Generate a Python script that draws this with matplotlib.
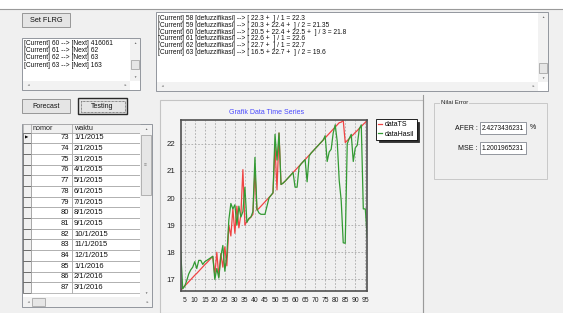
import matplotlib
matplotlib.use('Agg')
import matplotlib.pyplot as plt
from matplotlib.patches import Rectangle

W, H = 563, 313

# chart data
x_index = list(range(3, 97))
data_ts = [16.60, 16.68, 16.76, 16.83, 16.91, 16.99, 17.07, 17.15, 17.22, 17.30,
           17.38, 17.46, 17.54, 17.61, 17.69, 17.77, 17.85, 17.15, 18.00, 17.10,
           17.95, 17.45, 18.20, 17.50, 19.00, 18.60, 19.60, 18.70, 19.70, 18.90,
           19.40, 21.05, 19.00, 19.15, 19.22, 19.30, 19.40, 21.00, 19.55, 19.62,
           19.70, 19.78, 19.86, 19.94, 20.02, 20.10, 20.18, 21.90, 20.30, 22.40,
           20.50, 20.55, 20.62, 20.70, 20.78, 20.86, 20.94, 21.02, 21.10, 21.18,
           21.26, 21.34, 21.42, 21.50, 21.58, 21.66, 21.74, 21.82, 21.90, 21.98,
           22.06, 22.14, 22.22, 22.30, 22.38, 22.46, 22.54, 22.62, 22.70, 22.78,
           22.80, 22.87, 22.05, 22.12, 22.19, 22.27, 22.34, 22.42, 22.49, 22.57,
           22.64, 22.72, 22.79, 22.87]
data_hasil = [18.05, 16.65, 16.75, 16.95, 17.20, 17.35, 17.45, 17.65, 17.40, 17.70,
              17.70, 17.55, 17.65, 17.70, 17.75, 17.80, 17.85, 17.00, 17.40, 17.05,
              17.85, 18.25, 17.30, 17.90, 19.20, 19.80, 19.60, 19.75, 19.00, 19.70,
              19.30, 19.50, 20.40, 19.10, 19.25, 19.30, 19.50, 21.50, 19.60, 19.45,
              19.40, 19.40, 19.40, 19.70, 20.00, 20.10, 20.20, 22.35, 21.40, 22.40,
              20.50, 20.55, 20.62, 20.70, 20.78, 20.86, 20.94, 20.40, 20.40, 21.15,
              21.26, 21.34, 21.42, 20.60, 21.55, 21.66, 21.74, 21.82, 21.90, 21.98,
              22.06, 22.14, 22.30, 21.35, 21.70, 21.80, 22.40, 22.70, 22.10, 20.65,
              19.90, 18.35, 18.33, 22.00, 22.20, 22.35, 21.35, 21.85, 21.95, 22.55,
              22.70, 19.60, 19.60, 18.55]
x_ticks = [5, 10, 15, 20, 25, 30, 35, 40, 45, 50, 55, 60, 65, 70, 75, 80, 85, 90, 95]
y_ticks = [17, 18, 19, 20, 21, 22]

# form contents
flrg_lines = ["[Current] 60 --> [Next] 416061",
              "[Current] 61 --> [Next] 62",
              "[Current] 62 --> [Next] 63",
              "[Current] 63 --> [Next] 163"]
defuzz_lines = ["[Current] 58 [defuzzifikasi] --> [ 22.3 +  ] / 1 = 22.3",
                "[Current] 59 [defuzzifikasi] --> [ 20.3 + 22.4 +  ] / 2 = 21.35",
                "[Current] 60 [defuzzifikasi] --> [ 20.5 + 22.4 + 22.5 +  ] / 3 = 21.8",
                "[Current] 61 [defuzzifikasi] --> [ 22.6 +  ] / 1 = 22.6",
                "[Current] 62 [defuzzifikasi] --> [ 22.7 +  ] / 1 = 22.7",
                "[Current] 63 [defuzzifikasi] --> [ 16.5 + 22.7 +  ] / 2 = 19.6"]
nomor = [73, 74, 75, 76, 77, 78, 79, 80, 81, 82, 83, 84, 85, 86, 87]
waktu = ["1/1/2015", "2/1/2015", "3/1/2015", "4/1/2015", "5/1/2015", "6/1/2015",
         "7/1/2015", "8/1/2015", "9/1/2015", "10/1/2015", "11/1/2015", "12/1/2015",
         "1/1/2016", "2/1/2016", "3/1/2016"]
afer_text = "2.4273436231"
mse_text = "1.2001965231"

BG = '#f0f0f0'


def rect(ax, x0, y0, x1, y1, fc, ec='none', lw=0.6, **kw):
    ax.add_patch(Rectangle((x0, y0), x1 - x0, y1 - y0, facecolor=fc, edgecolor=ec, linewidth=lw, **kw))


def button(ax, x0, y0, x1, y1, label, size=5.0, focus=False):
    if focus:
        rect(ax, x0, y0, x1, y1, '#e5e5e5', '#2a2a2a', 1.0)
        rect(ax, x0 + 2.5, y0 + 2.5, x1 - 2.5, y1 - 2.5, 'none', '#303030', 0.5, linestyle=(0, (1, 1)))
    else:
        rect(ax, x0, y0, x1, y1, '#e5e5e5', '#8a8a8a', 0.6)
    ax.text((x0 + x1) / 2, (y0 + y1) / 2 + 0.3, label, ha='center', va='center', fontsize=size, color='#111111')


def vscroll(ax, x0, y0, x1, y1, t0, t1, grip=False):
    rect(ax, x0, y0, x1, y1, '#f2f2f2')
    cx = (x0 + x1) / 2
    ax.text(cx, y0 + 4.5, '▲', ha='center', va='center', fontsize=2.3, color='#707070')
    ax.text(cx, y1 - 4.5, '▼', ha='center', va='center', fontsize=2.3, color='#707070')
    rect(ax, x0 + 1, t0, x1 - 1, t1, '#e6e6e6', '#9a9a9a', 0.5)
    if grip:
        ax.text(cx, (t0 + t1) / 2, '≡', ha='center', va='center', fontsize=3.5, color='#808080')


def hscroll(ax, x0, y0, x1, y1, thumb=None):
    rect(ax, x0, y0, x1, y1, '#f2f2f2')
    cy = (y0 + y1) / 2
    ax.text(x0 + 5, cy, '◄', ha='center', va='center', fontsize=2.3, color='#707070')
    ax.text(x1 - 5, cy, '►', ha='center', va='center', fontsize=2.3, color='#707070')
    if thumb:
        rect(ax, thumb[0], y0 + 1, thumb[1], y1 - 1, '#e6e6e6', '#9a9a9a', 0.5)


def main():
    plt.rcParams['font.family'] = ['Liberation Sans', 'DejaVu Sans']
    fig = plt.figure(figsize=(W / 100, H / 100), dpi=100)
    fig.patch.set_facecolor(BG)

    bg = fig.add_axes([0, 0, 1, 1])
    bg.set_xlim(0, W)
    bg.set_ylim(H, 0)
    bg.axis('off')

    # top strip
    rect(bg, 0, 0, W, 9, 'white')
    bg.plot([0, W], [9.3, 9.3], color='#9a9a9a', lw=0.8)

    # Set FLRG + list box
    button(bg, 22, 13, 70, 27, 'Set FLRG', size=5.3)
    rect(bg, 22, 38, 140, 90, 'white', '#828790', 0.6)
    for i, line in enumerate(flrg_lines):
        bg.text(24, 43.5 + i * 7.2, line, ha='left', va='center', fontsize=4.8, color='#111111')
    vscroll(bg, 130, 38.5, 139.5, 81, 60, 69)
    hscroll(bg, 22.5, 81, 130, 89.5)

    # defuzzification text box
    rect(bg, 156, 12, 548, 91, 'white', '#828790', 0.6)
    for i, line in enumerate(defuzz_lines):
        bg.text(158, 18.5 + i * 6.8, line, ha='left', va='center', fontsize=4.8, color='#111111')
    vscroll(bg, 538, 12.5, 547.5, 82, 63, 73)
    hscroll(bg, 156.5, 82, 538, 90.5)

    # Forecast / Testing buttons
    button(bg, 22, 99, 70, 113, 'Forecast')
    button(bg, 78, 98, 127, 114, 'Testing', focus=True)

    # data grid
    top, head_h, row_h = 124, 8.5, 10.7
    rect(bg, 22, top, 152, 307, 'white', '#828790', 0.6)
    rect(bg, 22.5, top, 139.5, top + head_h, BG, '#a0a0a0', 0.5)
    bg.text(33, top + head_h / 2, 'nomor', ha='left', va='center', fontsize=5.2, color='#222222')
    bg.text(74, top + head_h / 2, 'waktu', ha='left', va='center', fontsize=5.2, color='#222222')
    for xs in (31, 72):
        bg.plot([xs, xs], [top, top + head_h], color='#a0a0a0', lw=0.5)
    y = top + head_h
    for i, (n, w) in enumerate(zip(nomor, waktu)):
        y1 = min(y + row_h, 297)
        rect(bg, 22.5, y, 31, y1, BG, '#505050', 0.5)
        rect(bg, 31, y, 72, y1, 'white', '#a0a0a0', 0.5)
        rect(bg, 72, y, 139.5, y1, 'white', '#a0a0a0', 0.5)
        cy = y + row_h / 2
        if cy < 297:
            bg.text(69, cy, str(n), ha='right', va='center', fontsize=5.5, color='#111111')
            bg.text(74, cy, w, ha='left', va='center', fontsize=5.5, color='#111111')
        if i == 0:
            bg.text(26.5, cy, '▶', ha='center', va='center', fontsize=3.2, color='black')
        y += row_h
    vscroll(bg, 139.5, top + 0.5, 151.5, 297, 135, 195, grip=True)
    hscroll(bg, 22.5, 297, 151.5, 306.5, thumb=(32, 45))

    # chart panel
    rect(bg, 160, 100, 423, 313, '#f3f3f3', '#c4c4c4', 0.8)
    bg.plot([423, 423], [95, 313], color='#9a9a9a', lw=0.8)
    bg.text(266.5, 112, 'Grafik Data Time Series', ha='center', va='center',
            fontsize=5.0, color='#4a4aff')

    # Nilai Error group
    rect(bg, 434, 103, 547, 179, 'none', '#c8c8c8', 0.7)
    bg.text(441, 103, 'Nilai Error', ha='left', va='center', fontsize=4.4, color='#222222',
            bbox=dict(facecolor=BG, edgecolor='none', pad=0.6))
    bg.text(478, 128, 'AFER :', ha='right', va='center', fontsize=5.0, color='#111111')
    rect(bg, 480, 122, 526, 134, 'white', '#828790', 0.6)
    bg.text(481.5, 128.3, afer_text, ha='left', va='center', fontsize=4.8, color='#111111')
    bg.text(533, 127.5, '%', ha='center', va='center', fontsize=5.0, color='#111111')
    bg.text(478, 148, 'MSE :', ha='right', va='center', fontsize=5.0, color='#111111')
    rect(bg, 480, 142, 526, 154, 'white', '#828790', 0.6)
    bg.text(481.5, 148.3, mse_text, ha='left', va='center', fontsize=4.8, color='#111111')

    # the line chart
    x0, x1, y0, y1 = 180.7, 367.3, 120, 291
    ax = fig.add_axes([x0 / W, 1 - y1 / H, (x1 - x0) / W, (y1 - y0) / H])
    ax.set_facecolor('#f0f0f0')
    ax.plot(x_index, data_ts, color='#f04444', lw=0.9, label='dataTS')
    ax.plot(x_index, data_hasil, color='#339a33', lw=0.9, label='dataHasil')
    ax.set_xlim(3, 96)
    ax.set_ylim(16.57, 22.88)
    ax.set_xticks(x_ticks)
    ax.set_yticks(y_ticks)
    ax.tick_params(axis='x', length=0, pad=4, labelsize=4.9, labelcolor='#222222')
    ax.tick_params(axis='y', length=0, pad=4, labelsize=5.6, labelcolor='#222222')
    ax.grid(True, color='#a8a8a8', linestyle=(0, (2, 2)), linewidth=0.6)
    for sp in ax.spines.values():
        sp.set_color('#505050')
        sp.set_linewidth(1.2)

    leg = ax.legend(loc='upper left', bbox_to_anchor=(376 / W, 1 - 119 / H),
                    bbox_transform=fig.transFigure, fontsize=5.0, frameon=True,
                    fancybox=False, borderaxespad=0, borderpad=0.3, labelspacing=0.35,
                    handlelength=0.6, handletextpad=0.4,
                    shadow={'ox': 2, 'oy': -2, 'facecolor': '#303030',
                            'edgecolor': '#303030', 'alpha': 1.0})
    leg.get_frame().set_edgecolor('black')
    leg.get_frame().set_linewidth(0.6)
    leg.get_frame().set_facecolor('white')

    fig.savefig('out.png', dpi=100, facecolor=fig.get_facecolor())
    plt.close(fig)


if __name__ == "__main__":
    main()
